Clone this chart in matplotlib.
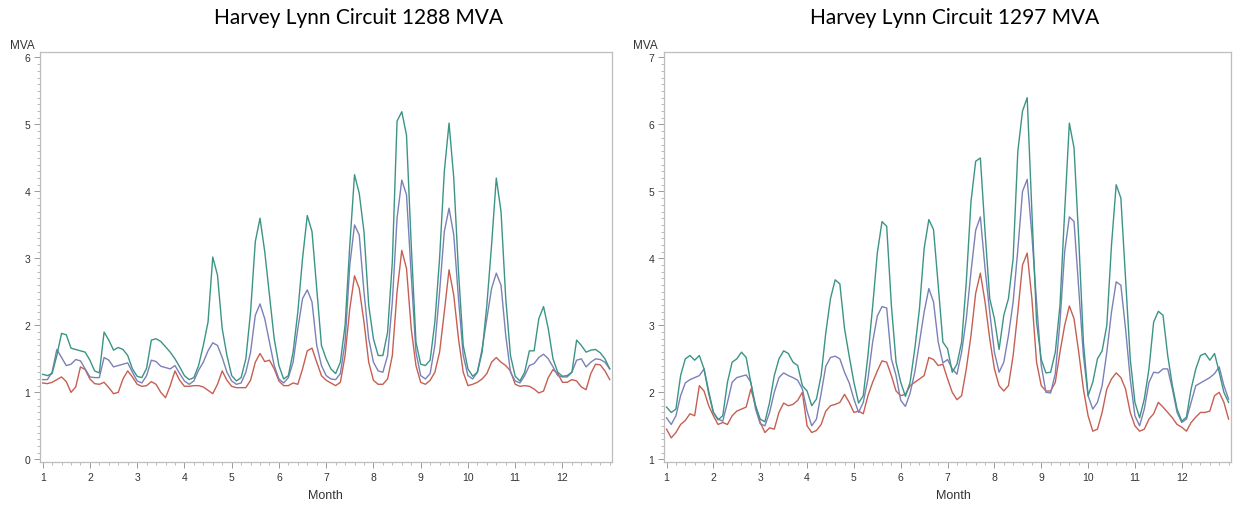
import matplotlib.pyplot as plt
import numpy as np
from matplotlib.ticker import MultipleLocator

plt.rcParams['font.family'] = ['Liberation Sans', 'DejaVu Sans']

# Month axis (fractional months, step 0.1)
months = np.round(np.arange(1.0, 13.01, 0.1), 1)

# Circuit 1288 MVA
c1288_top = [1.27, 1.25, 1.28, 1.55, 1.88, 1.86, 1.66, 1.64, 1.62, 1.60,
             1.48, 1.32, 1.29, 1.90, 1.78, 1.63, 1.67, 1.64, 1.55, 1.35,
             1.24, 1.22, 1.36, 1.78, 1.80, 1.76, 1.68, 1.60, 1.50, 1.38,
             1.25, 1.19, 1.22, 1.40, 1.70, 2.05, 3.02, 2.75, 1.95, 1.55,
             1.25, 1.17, 1.22, 1.50, 2.20, 3.25, 3.60, 3.10, 2.45, 1.80,
             1.40, 1.20, 1.25, 1.60, 2.20, 3.00, 3.64, 3.40, 2.55, 1.70,
             1.50, 1.35, 1.28, 1.45, 2.00, 3.20, 4.25, 3.97, 3.40, 2.30,
             1.80, 1.55, 1.55, 1.90, 2.95, 5.05, 5.19, 4.84, 3.20, 1.75,
             1.42, 1.40, 1.48, 2.05, 3.00, 4.30, 5.02, 4.20, 2.80, 1.70,
             1.35, 1.24, 1.30, 1.60, 2.30, 3.20, 4.20, 3.70, 2.40, 1.55,
             1.24, 1.17, 1.30, 1.62, 1.62, 2.10, 2.28, 1.95, 1.50, 1.30,
             1.24, 1.25, 1.30, 1.78, 1.70, 1.60, 1.63, 1.64, 1.59, 1.50,
             1.35]
c1288_mid = [1.19, 1.19, 1.30, 1.64, 1.52, 1.40, 1.42, 1.49, 1.47, 1.35,
             1.23, 1.22, 1.22, 1.52, 1.48, 1.38, 1.40, 1.42, 1.44, 1.30,
             1.17, 1.14, 1.25, 1.48, 1.46, 1.39, 1.37, 1.35, 1.40, 1.28,
             1.17, 1.12, 1.17, 1.33, 1.45, 1.62, 1.74, 1.70, 1.52, 1.30,
             1.17, 1.12, 1.14, 1.30, 1.60, 2.15, 2.32, 2.10, 1.75, 1.40,
             1.20, 1.14, 1.22, 1.45, 1.95, 2.40, 2.53, 2.35, 1.70, 1.40,
             1.25, 1.20, 1.19, 1.28, 1.75, 2.90, 3.50, 3.35, 2.50, 1.80,
             1.45, 1.32, 1.30, 1.55, 2.35, 3.60, 4.17, 3.95, 2.75, 1.60,
             1.25, 1.20, 1.28, 1.70, 2.50, 3.40, 3.75, 3.35, 2.40, 1.55,
             1.25, 1.20, 1.30, 1.65, 2.10, 2.55, 2.78, 2.60, 1.85, 1.30,
             1.17, 1.14, 1.25, 1.40, 1.43, 1.52, 1.57, 1.50, 1.38, 1.25,
             1.23, 1.23, 1.30, 1.48, 1.50, 1.38, 1.45, 1.50, 1.49, 1.45,
             1.35]
c1288_low = [1.14, 1.13, 1.15, 1.19, 1.23, 1.16, 1.00, 1.08, 1.38, 1.34,
             1.20, 1.13, 1.12, 1.15, 1.07, 0.98, 1.00, 1.20, 1.32, 1.23,
             1.12, 1.09, 1.10, 1.16, 1.12, 1.00, 0.92, 1.10, 1.32, 1.18,
             1.09, 1.09, 1.10, 1.10, 1.08, 1.03, 0.98, 1.12, 1.32, 1.18,
             1.09, 1.07, 1.07, 1.07, 1.18, 1.45, 1.58, 1.46, 1.48, 1.35,
             1.17, 1.10, 1.10, 1.14, 1.12, 1.35, 1.62, 1.66, 1.45, 1.25,
             1.18, 1.14, 1.10, 1.15, 1.55, 2.25, 2.74, 2.55, 2.05, 1.45,
             1.18, 1.12, 1.12, 1.20, 1.55, 2.50, 3.12, 2.85, 1.95, 1.40,
             1.15, 1.12, 1.18, 1.30, 1.60, 2.20, 2.83, 2.45, 1.80, 1.30,
             1.10, 1.12, 1.15, 1.20, 1.28, 1.45, 1.52, 1.45, 1.40, 1.32,
             1.12, 1.09, 1.10, 1.09, 1.05, 0.99, 1.02, 1.22, 1.34, 1.28,
             1.15, 1.15, 1.19, 1.17, 1.08, 1.04, 1.28, 1.42, 1.41, 1.32,
             1.19]

# Circuit 1297 MVA
c1297_top = [1.78, 1.70, 1.75, 2.25, 2.50, 2.55, 2.48, 2.55, 2.35, 1.98,
             1.70, 1.59, 1.65, 2.15, 2.45, 2.50, 2.60, 2.52, 2.14, 1.80,
             1.60, 1.56, 1.85, 2.25, 2.50, 2.62, 2.58, 2.45, 2.40, 2.10,
             2.02, 1.80, 1.90, 2.25, 2.89, 3.40, 3.68, 3.62, 2.95, 2.54,
             2.15, 1.84, 1.95, 2.55, 3.28, 4.08, 4.55, 4.48, 3.30, 2.45,
             2.15, 1.94, 2.15, 2.65, 3.25, 4.15, 4.58, 4.43, 3.60, 2.75,
             2.65, 2.30, 2.42, 2.75, 3.65, 4.85, 5.45, 5.50, 4.40, 3.40,
             3.10, 2.64, 3.15, 3.40, 4.00, 5.60, 6.20, 6.40, 4.70, 3.05,
             2.49, 2.29, 2.30, 2.60, 3.30, 4.70, 6.02, 5.65, 4.30, 2.75,
             1.95, 2.15, 2.50, 2.62, 3.00, 4.20, 5.10, 4.90, 3.70, 2.50,
             1.85, 1.62, 1.90, 2.35, 3.05, 3.21, 3.15, 2.55, 2.10, 1.75,
             1.57, 1.63, 2.05, 2.35, 2.55, 2.58, 2.48, 2.58, 2.30, 2.00,
             1.85]
c1297_mid = [1.62, 1.52, 1.65, 1.95, 2.14, 2.19, 2.22, 2.25, 2.35, 2.02,
             1.70, 1.60, 1.57, 1.85, 2.15, 2.22, 2.24, 2.26, 2.15, 1.75,
             1.53, 1.50, 1.70, 2.00, 2.22, 2.29, 2.25, 2.22, 2.18, 2.05,
             1.72, 1.50, 1.60, 1.98, 2.39, 2.52, 2.54, 2.50, 2.30, 2.14,
             1.90, 1.70, 1.85, 2.20, 2.75, 3.14, 3.28, 3.26, 2.50, 2.25,
             1.88, 1.79, 1.99, 2.30, 2.75, 3.20, 3.55, 3.35, 2.75, 2.44,
             2.49, 2.35, 2.27, 2.60, 3.10, 3.80, 4.42, 4.62, 3.85, 3.20,
             2.60, 2.30, 2.45, 2.85, 3.35, 4.13, 5.00, 5.18, 4.35, 3.35,
             2.40, 2.00, 1.99, 2.28, 3.05, 4.10, 4.62, 4.55, 3.55, 2.55,
             1.95, 1.75, 1.85, 2.10, 2.60, 3.20, 3.65, 3.60, 2.95, 2.20,
             1.65, 1.50, 1.75, 2.15, 2.30, 2.29, 2.35, 2.35, 2.05, 1.70,
             1.55, 1.60, 1.85, 2.10, 2.14, 2.18, 2.22, 2.28, 2.38, 2.10,
             1.90]
c1297_low = [1.45, 1.32, 1.40, 1.52, 1.58, 1.68, 1.65, 2.10, 2.02, 1.80,
             1.65, 1.52, 1.55, 1.52, 1.65, 1.72, 1.75, 1.78, 2.05, 1.80,
             1.55, 1.40, 1.47, 1.45, 1.70, 1.84, 1.80, 1.82, 1.88, 2.00,
             1.50, 1.40, 1.43, 1.52, 1.72, 1.80, 1.82, 1.85, 1.97, 1.85,
             1.70, 1.72, 1.68, 1.95, 2.15, 2.32, 2.47, 2.45, 2.25, 2.02,
             1.95, 1.97, 2.10, 2.15, 2.20, 2.25, 2.52, 2.49, 2.40, 2.42,
             2.20, 2.00, 1.89, 1.95, 2.35, 2.85, 3.48, 3.78, 3.35, 2.80,
             2.35, 2.10, 2.02, 2.10, 2.55, 3.20, 3.90, 4.08, 3.40, 2.45,
             2.10, 2.02, 2.02, 2.15, 2.60, 3.00, 3.29, 3.10, 2.60, 2.05,
             1.65, 1.42, 1.45, 1.70, 2.05, 2.20, 2.29, 2.22, 2.05, 1.70,
             1.50, 1.42, 1.45, 1.60, 1.68, 1.85, 1.78, 1.70, 1.62, 1.52,
             1.48, 1.42, 1.55, 1.63, 1.70, 1.70, 1.72, 1.95, 2.00, 1.85,
             1.60]

titles = ['Harvey Lynn Circuit 1288 MVA', 'Harvey Lynn Circuit 1297 MVA']
col_top, col_mid, col_low = '#3b9484', '#7c80b8', '#c65f52'
txt = '#333333'
frame = '#bdbdbd'

fig = plt.figure(figsize=(12.36, 5.06), dpi=100)
ax1 = fig.add_axes([0.0324, 0.085, 0.4628, 0.810])
ax2 = fig.add_axes([0.5372, 0.085, 0.4587, 0.810])

panels = [
    (ax1, c1288_top, c1288_mid, c1288_low, (-0.04, 6.08), range(0, 7)),
    (ax2, c1297_top, c1297_mid, c1297_low, (0.96, 7.08), range(1, 8)),
]

for ax, top, mid, low, ylim, yt in panels:
    ax.plot(months, low, color=col_low, lw=1.0)
    ax.plot(months, mid, color=col_mid, lw=1.0)
    ax.plot(months, top, color=col_top, lw=1.0)
    ax.set_xlim(0.945, 13.05)
    ax.set_ylim(*ylim)
    ax.set_xticks(range(1, 13))
    ax.set_yticks(list(yt))
    ax.xaxis.set_minor_locator(MultipleLocator(0.2))
    ax.yaxis.set_minor_locator(MultipleLocator(0.1))
    ax.tick_params(which='major', length=4, width=0.7, color='#9a9a9a',
                   labelsize=7.5, labelcolor=txt, pad=3)
    ax.tick_params(which='minor', length=2, width=0.6, color='#b0b0b0')
    for s in ax.spines.values():
        s.set_color(frame)
        s.set_linewidth(0.9)

# panel titles and axis labels
fig.text(358 / 1236, 1 - 18 / 506, titles[0], ha='center', va='center',
         fontsize=15, family='Lato', color='black')
fig.text(955 / 1236, 1 - 18 / 506, titles[1], ha='center', va='center',
         fontsize=15, family='Lato', color='black')
fig.text(22 / 1236, 1 - 46 / 506, 'MVA', ha='center', va='center',
         fontsize=8.5, color=txt)
fig.text(645 / 1236, 1 - 46 / 506, 'MVA', ha='center', va='center',
         fontsize=8.5, color=txt)
fig.text(325 / 1236, 1 - 496 / 506, 'Month', ha='center', va='center',
         fontsize=9, color=txt)
fig.text(953 / 1236, 1 - 496 / 506, 'Month', ha='center', va='center',
         fontsize=9, color=txt)

plt.savefig('out.png', dpi=100)
